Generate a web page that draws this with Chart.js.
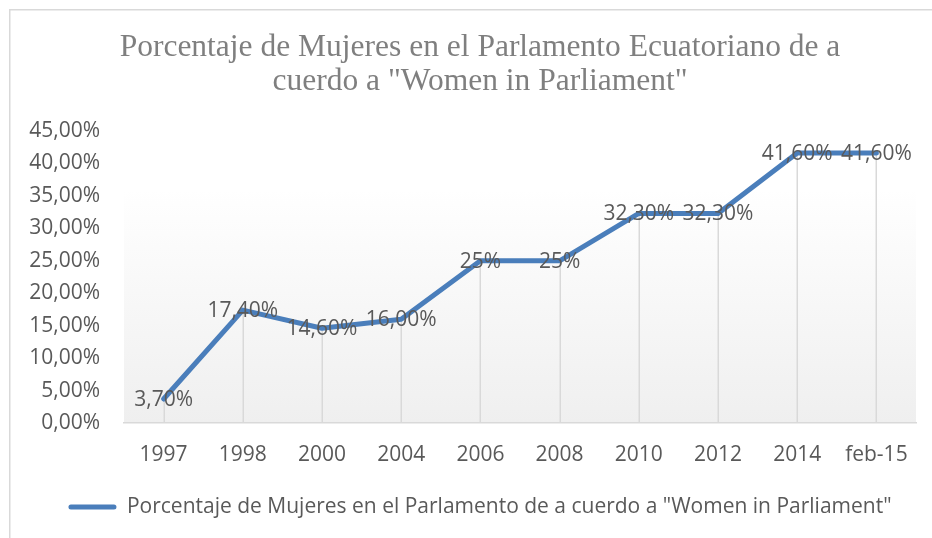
<!DOCTYPE html>
<html>
<head>
<meta charset="utf-8">
<script src="https://cdn.jsdelivr.net/npm/chart.js@4.4.0/dist/chart.umd.min.js"></script>
<style>
  html, body { margin: 0; padding: 0; background: #ffffff; }
  #wrap { width: 932px; height: 538px; position: relative; }
</style>
</head>
<body>
<div id="wrap"><canvas id="c" width="932" height="538"></canvas></div>
<script>
const titleLines = ['Porcentaje de Mujeres en el Parlamento Ecuatoriano de a', 'cuerdo a "Women in Parliament"'];
const seriesName = 'Porcentaje de Mujeres en el Parlamento de a cuerdo a "Women in Parliament"';
const categories = ['1997', '1998', '2000', '2004', '2006', '2008', '2010', '2012', '2014', 'feb-15'];
const values = [3.7, 17.4, 14.6, 16.0, 25, 25, 32.3, 32.3, 41.6, 41.6];
const dataLabels = ['3,70%', '17,40%', '14,60%', '16,00%', '25%', '25%', '32,30%', '32,30%', '41,60%', '41,60%'];
const yTickLabels = ['0,00%', '5,00%', '10,00%', '15,00%', '20,00%', '25,00%', '30,00%', '35,00%', '40,00%', '45,00%'];

const LINE_COLOR = '#4a7ebb';
const TEXT_COLOR = '#595959';
const SANS = '"Open Sans", "Liberation Sans", sans-serif';
const CENTER_SHIFT = 22;

const decorPlugin = {
  id: 'decor',
  afterLayout(chart) {
    // the chart frame extends past the right edge, so its centre sits right of the canvas centre
    [chart.titleBlock, chart.legend].forEach(b => {
      if (b) { b.left += CENTER_SHIFT; b.right += CENTER_SHIFT; }
    });
  },
  beforeDraw(chart) {
    const ctx = chart.ctx, a = chart.chartArea;
    ctx.save();
    ctx.fillStyle = '#ffffff';
    ctx.fillRect(0, 0, chart.width, chart.height);
    ctx.strokeStyle = '#d9d9d9';
    ctx.lineWidth = 1.5;
    ctx.beginPath();
    ctx.moveTo(9.75, chart.height);
    ctx.lineTo(9.75, 9.75);
    ctx.lineTo(chart.width, 9.75);
    ctx.stroke();
    const g = ctx.createLinearGradient(0, a.top, 0, a.bottom);
    g.addColorStop(0, '#ffffff');
    g.addColorStop(0.2, '#ffffff');
    g.addColorStop(1, '#efefef');
    ctx.fillStyle = g;
    ctx.fillRect(a.left, a.top - 6, a.right - a.left, a.bottom - a.top + 6);
    ctx.restore();
  },
  beforeDatasetsDraw(chart) {
    const ctx = chart.ctx, a = chart.chartArea;
    const meta = chart.getDatasetMeta(0);
    ctx.save();
    ctx.strokeStyle = '#d9d9d9';
    ctx.lineWidth = 1.5;
    meta.data.forEach(pt => {
      const x = Math.round(pt.x) + 0.25;
      ctx.beginPath();
      ctx.moveTo(x, pt.y);
      ctx.lineTo(x, a.bottom);
      ctx.stroke();
    });
    ctx.restore();
  },
  afterDatasetsDraw(chart) {
    const ctx = chart.ctx;
    const meta = chart.getDatasetMeta(0);
    ctx.save();
    ctx.fillStyle = TEXT_COLOR;
    ctx.font = '21px ' + SANS;
    ctx.textAlign = 'center';
    ctx.textBaseline = 'middle';
    meta.data.forEach((pt, i) => {
      ctx.fillText(dataLabels[i], pt.x, pt.y + 1);
    });
    ctx.restore();
  }
};

new Chart(document.getElementById('c'), {
  type: 'line',
  data: {
    labels: categories,
    datasets: [{
      label: seriesName,
      data: values,
      borderColor: LINE_COLOR,
      backgroundColor: LINE_COLOR,
      borderWidth: 5,
      borderJoinStyle: 'round',
      borderCapStyle: 'round',
      tension: 0,
      pointRadius: 0,
      pointHoverRadius: 0,
      clip: false
    }]
  },
  options: {
    responsive: false,
    animation: false,
    devicePixelRatio: 1,
    layout: { padding: { left: 0, right: 16, top: 0, bottom: 10.5 } },
    plugins: {
      tooltip: { enabled: false },
      title: {
        display: true,
        text: titleLines,
        color: '#7f7f7f',
        font: { family: '"Liberation Serif", "Times New Roman", serif', size: 31.5, weight: 'normal', lineHeight: 1.1 },
        padding: { top: 30, bottom: 31.7 }
      },
      legend: {
        display: true,
        position: 'bottom',
        labels: {
          color: TEXT_COLOR,
          font: { family: SANS, size: 21 },
          boxWidth: 48,
          boxHeight: 5,
          padding: 10,
          useBorderRadius: true,
          borderRadius: 2.5,
          generateLabels(chart) {
            const items = Chart.defaults.plugins.legend.labels.generateLabels(chart);
            items.forEach(it => { it.lineWidth = 0; it.fillStyle = LINE_COLOR; it.strokeStyle = LINE_COLOR; });
            return items;
          }
        }
      }
    },
    scales: {
      x: {
        offset: true,
        grid: { display: false, drawTicks: false },
        border: { display: true, color: '#d9d9d9', width: 1.5 },
        ticks: { color: TEXT_COLOR, font: { family: SANS, size: 21 }, padding: 19, maxRotation: 0, autoSkip: false },
        afterFit(scale) { scale.height = 63.5; }
      },
      y: {
        min: 0,
        max: 45,
        grid: { display: false, drawTicks: false },
        border: { display: false },
        ticks: {
          stepSize: 5,
          color: TEXT_COLOR,
          font: { family: SANS, size: 21 },
          padding: 24,
          callback(value, index) { return yTickLabels[index]; }
        },
        afterFit(scale) { scale.width = 124; }
      }
    }
  },
  plugins: [decorPlugin]
});
</script>
</body>
</html>
